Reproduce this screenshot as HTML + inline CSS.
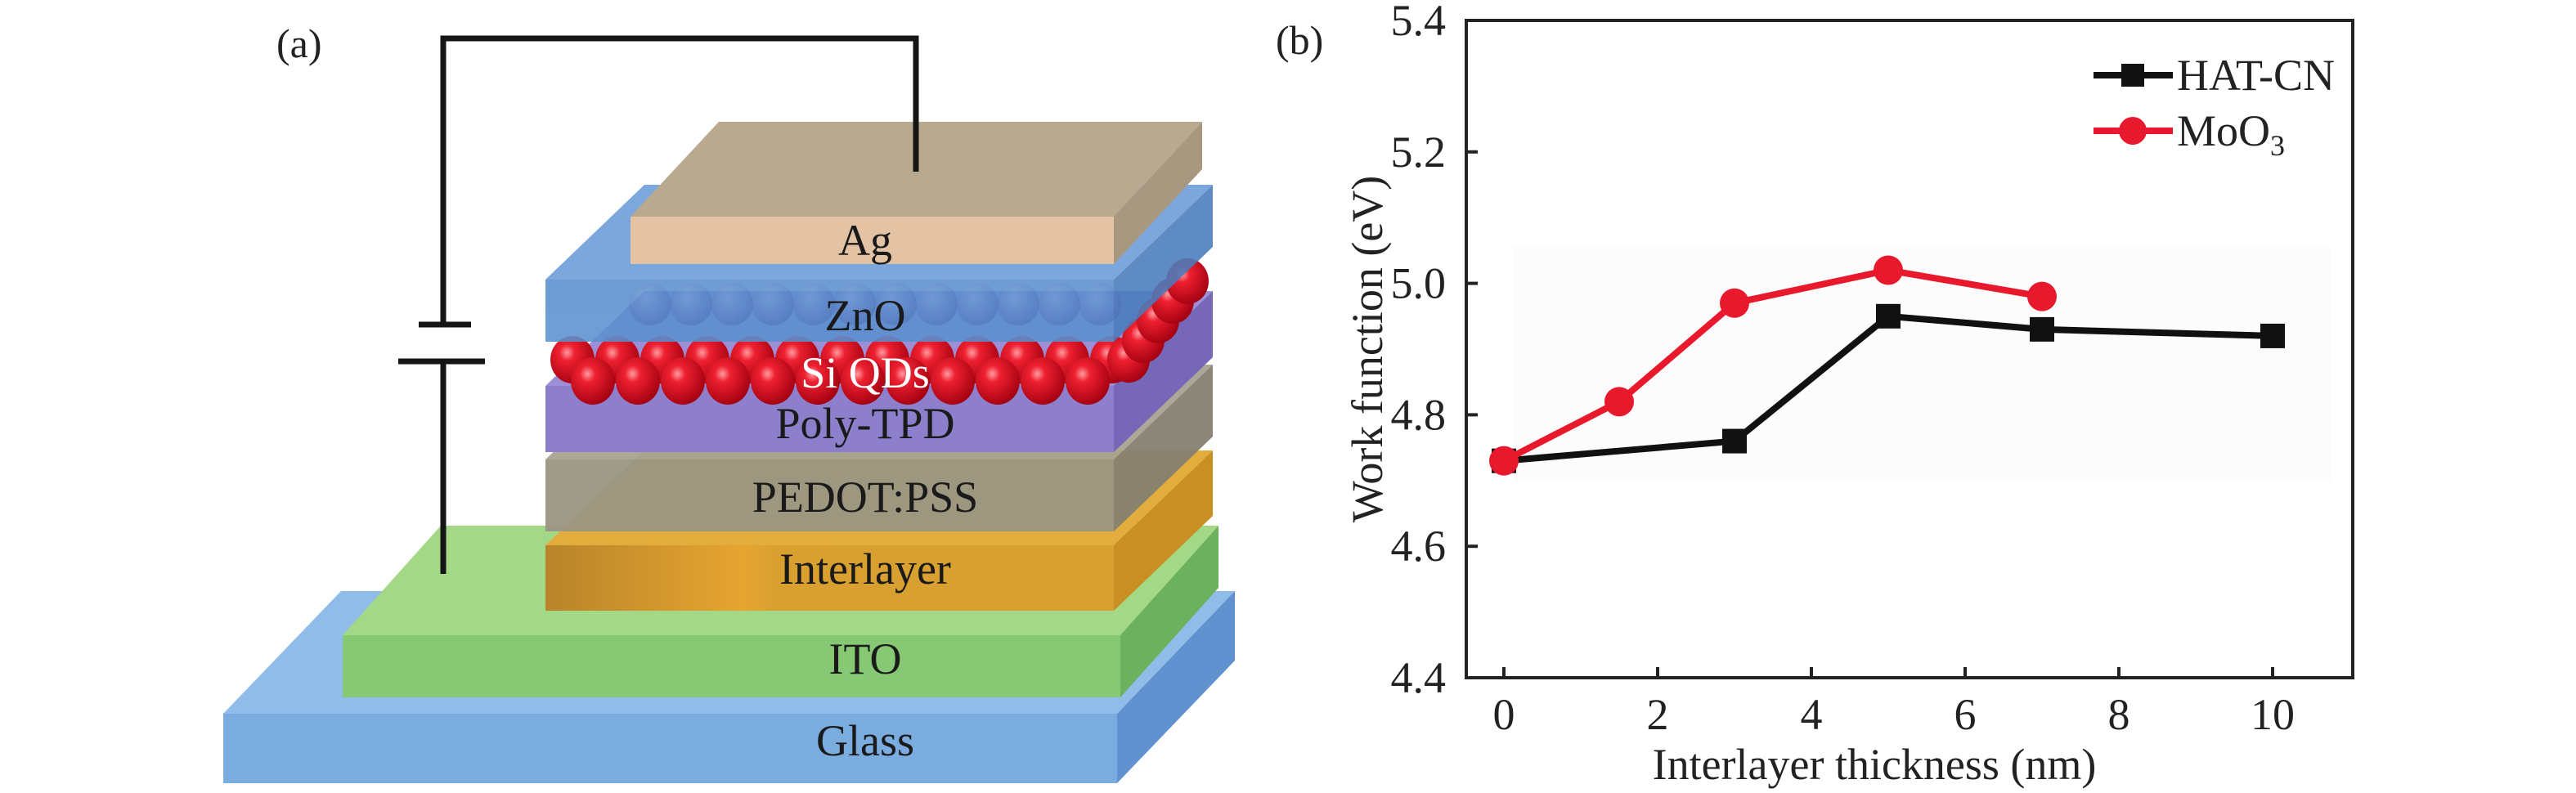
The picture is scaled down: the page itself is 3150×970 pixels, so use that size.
<!DOCTYPE html>
<html><head><meta charset="utf-8"><style>
html,body{margin:0;padding:0;background:#fff;}
svg{display:block;}
svg text{font-family:"Liberation Serif","Times New Roman",serif;}
</style></head><body>
<svg id="fig" width="3150" height="970" viewBox="0 0 3150 970" xmlns="http://www.w3.org/2000/svg" font-family="Liberation Serif, serif">
<defs>
<radialGradient id="qd" cx="0.38" cy="0.35" r="0.7">
<stop offset="0" stop-color="#ff9aa0"/><stop offset="0.25" stop-color="#ee2030"/><stop offset="1" stop-color="#a00010"/>
</radialGradient>
<radialGradient id="zb" cx="0.4" cy="0.35" r="0.7">
<stop offset="0" stop-color="#7fa8e0"/><stop offset="1" stop-color="#3a62a8"/>
</radialGradient>
<linearGradient id="il" x1="0" x2="1" y1="0" y2="0">
<stop offset="0" stop-color="#b8842a"/><stop offset="0.35" stop-color="#e6a530"/><stop offset="0.4" stop-color="#d9a030"/><stop offset="1" stop-color="#d7a030"/>
</linearGradient>
</defs>

<!-- Panel (a) -->
<g>
<text x="338" y="70" font-size="50" fill="#222">(a)</text>
<g id="layers"></g>
<g stroke="#151515" stroke-width="7" fill="none">
<polyline points="542,397 542,47 1120,47 1120,210"/>
<line x1="542" y1="442" x2="542" y2="702"/>
<line x1="512" y1="397" x2="576" y2="397"/>
<line x1="487" y1="442" x2="593" y2="442"/>
</g>
<g font-size="54" fill="#1a1a1a" text-anchor="middle">
<text x="1058" y="312">Ag</text>
<text x="1058" y="404">ZnO</text>
<text x="1058" y="474" fill="#fff">Si QDs</text>
<text x="1058" y="536">Poly-TPD</text>
<text x="1058" y="626">PEDOT:PSS</text>
<text x="1058" y="714">Interlayer</text>
<text x="1058" y="824">ITO</text>
<text x="1058" y="924">Glass</text>
</g>
</g>

<!-- Panel (b) -->
<g>
<text x="1560" y="66" font-size="50" fill="#222">(b)</text>
<rect x="1850" y="300" width="1000" height="290" fill="#fcfcfc"/>
<g id="axes"></g>
<g id="series"></g>
<text x="2292" y="953" font-size="54" text-anchor="middle" fill="#222">Interlayer thickness (nm)</text>
<text transform="translate(1690,427) rotate(-90)" font-size="54" text-anchor="middle" fill="#222">Work function (eV)</text>
<g>
<g>
<line x1="2560" y1="92" x2="2657" y2="92" stroke="#111" stroke-width="8"/>
<rect x="2594" y="78" width="28" height="28" fill="#111"/>
<text x="2662" y="110" font-size="54" fill="#222">HAT-CN</text>
</g>
<g>
<line x1="2560" y1="160" x2="2657" y2="160" stroke="#e8192c" stroke-width="8"/>
<circle cx="2608" cy="160" r="17" fill="#e8192c"/>
<text x="2662" y="178" font-size="54" fill="#222">MoO<tspan font-size="36" dy="12">3</tspan></text>
</g>
</g>
</g>
</svg>
<script>
const NS='http://www.w3.org/2000/svg';
// chart data
const xTicks=[0,2,4,6,8,10];
const yTicks=[4.4,4.6,4.8,5.0,5.2,5.4];
const yTickLabels=['4.4','4.6','4.8','5.0','5.2','5.4'];
const hatX=[0,3,5,7,10];
const hatY=[4.73,4.76,4.95,4.93,4.92];
const mooX=[0,1.5,3,5,7];
const mooY=[4.73,4.82,4.97,5.02,4.98];

const X0=1839,XU=94,YB=829,YT=25;
function sx(v){return X0+v*XU;}
function sy(v){return YB-(v-4.4)/(5.4-4.4)*(YB-YT);}
function mk(tag,attrs,parent){const e=document.createElementNS(NS,tag);for(const k in attrs)e.setAttribute(k,attrs[k]);parent.appendChild(e);return e;}

const axes=document.getElementById('axes');
const frame=mk('rect',{x:1793,y:YT,width:2877-1793,height:YB-YT,fill:'none',stroke:'#222','stroke-width':4},axes);


xTicks.forEach(t=>{
  const l=mk('line',{x1:sx(t),x2:sx(t),y1:YB,y2:YB-13,stroke:'#222','stroke-width':4},axes);
  
  
  const tx=mk('text',{x:sx(t),y:892,'font-size':54,'text-anchor':'middle',fill:'#222'},axes);
  tx.textContent=String(t);
  
  
});
yTicks.forEach((t,i)=>{
  const l=mk('line',{x1:1793,x2:1807,y1:sy(t),y2:sy(t),stroke:'#222','stroke-width':4},axes);
  
  
  const tx=mk('text',{x:1768,y:sy(t)+18,'font-size':54,'text-anchor':'end',fill:'#222'},axes);
  tx.textContent=yTickLabels[i];
  
  
});

const series=document.getElementById('series');
function drawSeries(xs,ys,color,shape,name){
  const g=mk('g',{},series);
  
  
  const pl=mk('polyline',{points:xs.map((x,i)=>sx(x)+','+sy(ys[i])).join(' '),fill:'none',stroke:color,'stroke-width':8,'stroke-linejoin':'round'},g);
  
  
  xs.forEach((x,i)=>{
    let m;
    if(shape==='square') m=mk('rect',{x:sx(x)-15,y:sy(ys[i])-15,width:30,height:30,fill:color},g);
    else m=mk('circle',{cx:sx(x),cy:sy(ys[i]),r:18,fill:color},g);
    
    
  });
}
drawSeries(hatX,hatY,'#111','square','series-hat-cn');
drawSeries(mooX,mooY,'#e8192c','circle','series-moo3');

// device diagram
const L=document.getElementById('layers');
function box(name,x1,y1,x2,y2,dx,dy,front,top,side,op){
  const g=mk('g',{opacity:op||1},L);
  
  
  mk('polygon',{points:`${x1},${y1} ${x2},${y1} ${x2+dx},${y1+dy} ${x1+dx},${y1+dy}`,fill:top},g);
  mk('polygon',{points:`${x2},${y1} ${x2+dx},${y1+dy} ${x2+dx},${y2+dy} ${x2},${y2}`,fill:side},g);
  mk('rect',{x:x1,y:y1,width:x2-x1,height:y2-y1,fill:front},g);
  return g;
}
box('glass-layer',273,873,1366,958,144,-150,'#7aace0','#8fbce8','#5f92cf');
box('ito-layer',419,777,1370,853,120,-134,'#86c873','#a2d886','#6cb25e');
box('interlayer-layer',667,667,1362,747,121,-116,'url(#il)','#e2ad3c','#c98f22');
box('pedot-pss-layer',667,562,1362,650,121,-116,'#9b9683','#a8a391','#858070',0.95);
box('poly-tpd-layer',667,472,1362,553,121,-116,'#8d7fcb','#9c8fd6','#7667b8');
// Si QDs
const qg=mk('g',{},L);


for(let i=0;i<13;i++){mk('ellipse',{cx:700+i*55,cy:440,rx:27,ry:29,fill:'url(#qd)'},qg);}
for(let i=0;i<12;i++){mk('ellipse',{cx:725+i*55,cy:466,rx:27,ry:29,fill:'url(#qd)'},qg);}
for(let i=0;i<5;i++){mk('ellipse',{cx:1380+i*18,cy:440-i*24,rx:26,ry:28,fill:'url(#qd)'},qg);}
// ZnO
const zg=box('zno-layer',667,342,1362,418,121,-116,'#5b8fd0','#6a9cd8','#4a7cbc',0.88);
for(let i=0;i<12;i++){mk('circle',{cx:795+i*50,cy:372,r:26,fill:'url(#zb)',opacity:0.45},zg);}
box('ag-electrode',771,265,1362,323,108,-116,'#e3c3a3','#b9a98f','#a89880');
</script>
</body></html>
